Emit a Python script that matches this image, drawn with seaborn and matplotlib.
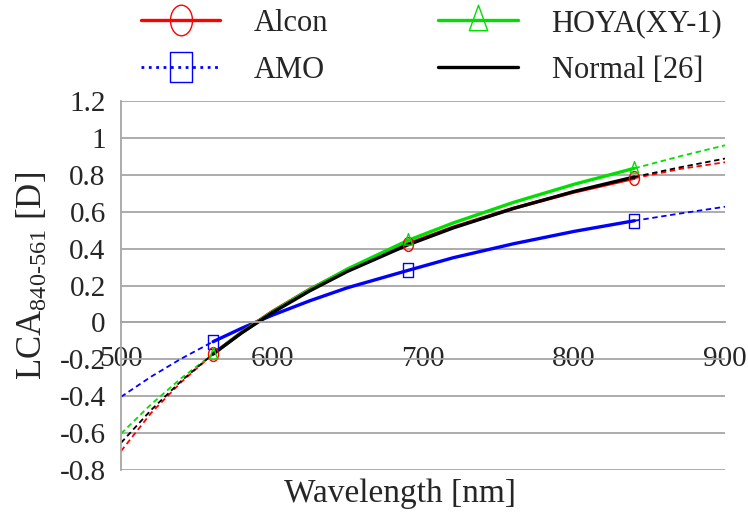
""" LCA of intraocular lenses vs wavelength """

import matplotlib
matplotlib.use("Agg")
import matplotlib.pyplot as plt
import seaborn as sns
from matplotlib.lines import Line2D
from matplotlib.path import Path
from matplotlib.transforms import Affine2D

# wavelength grid [nm] and LCA [D]
wl = [500, 520, 540, 561, 580, 600, 625, 650, 690, 720, 760, 800, 840, 870, 900]
alcon = [-0.700, -0.492, -0.324, -0.172, -0.053, 0.058, 0.180, 0.285, 0.427,
         0.517, 0.620, 0.708, 0.783, 0.833, 0.870]
hoya = [-0.605, -0.445, -0.303, -0.172, -0.055, 0.055, 0.178, 0.290, 0.445,
        0.540, 0.652, 0.750, 0.837, 0.902, 0.962]
amo = [-0.405, -0.295, -0.197, -0.105, -0.032, 0.038, 0.117, 0.188, 0.282,
       0.351, 0.427, 0.494, 0.552, 0.591, 0.628]
normal = [-0.655, -0.476, -0.318, -0.172, -0.057, 0.051, 0.171, 0.277, 0.421,
          0.513, 0.619, 0.711, 0.790, 0.842, 0.890]
measured_wl = [561, 690, 840]

y_ticks = [-0.8, -0.6, -0.4, -0.2, 0, 0.2, 0.4, 0.6, 0.8, 1, 1.2]
y_labels = ['-0.8', '-0.6', '-0.4', '-0.2', '0', '0.2', '0.4', '0.6', '0.8', '1', '1.2']
x_ticks = [500, 600, 700, 800, 900]

sns.set_style('white')
plt.rcParams['font.family'] = ['Liberation Serif', 'DejaVu Serif']
plt.rcParams['mathtext.fontset'] = 'custom'
plt.rcParams['mathtext.rm'] = 'Liberation Serif'
plt.rcParams['mathtext.it'] = 'Liberation Serif'

# tall markers like the spreadsheet legend
def stretched(path):
    return path.transformed(Affine2D().scale(0.72, 1.0))

ellipse = stretched(Path.unit_circle())
rect = stretched(Path.unit_rectangle().transformed(Affine2D().translate(-0.5, -0.5)))
tri = stretched(Path([(0, 0.6), (-0.5, -0.4), (0.5, -0.4), (0, 0.6)], closed=True))


def draw_curve(ax, y, color, marker=None):
    i0, i1 = wl.index(561), wl.index(840)
    sns.lineplot(x=wl[:i0 + 1], y=y[:i0 + 1], ax=ax, color=color, lw=1.3,
                 linestyle=(0, (3, 2)))
    sns.lineplot(x=wl[i1:], y=y[i1:], ax=ax, color=color, lw=1.3,
                 linestyle=(0, (3, 2)))
    sns.lineplot(x=wl[i0:i1 + 1], y=y[i0:i1 + 1], ax=ax, color=color, lw=2.4)
    if marker is not None:
        ys = [y[wl.index(w)] for w in measured_wl]
        ax.plot(measured_wl, ys, linestyle='none', marker=marker, markersize=10,
                mfc='none', mec=color, mew=1.0, zorder=5)


fig, ax = plt.subplots(figsize=(7.48, 5.16), dpi=100)
fig.subplots_adjust(left=0.1618, right=0.9693, bottom=0.0901, top=0.8033)

draw_curve(ax, amo, '#0000ff', rect)
draw_curve(ax, alcon, '#ff0000', ellipse)
draw_curve(ax, hoya, '#00e000', tri)
draw_curve(ax, normal, '#000000')

ax.set_xlim(500, 900)
ax.set_ylim(-0.8, 1.2)
ax.set_yticks(y_ticks)
ax.set_yticklabels(y_labels)
ax.set_xticks(x_ticks)

grid_c = '#a6a6a6'
ax.yaxis.grid(True, color=grid_c, lw=1.3)
ax.xaxis.grid(False)
for side in ['top', 'right']:
    ax.spines[side].set_visible(False)
ax.spines['bottom'].set_position(('data', 0))
ax.spines['bottom'].set_color(grid_c)
ax.spines['bottom'].set_linewidth(1.3)
ax.spines['left'].set_color(grid_c)
ax.spines['left'].set_linewidth(1.3)
ax.tick_params(axis='y', length=7, width=1.3, color=grid_c, labelsize=21, pad=4)
ax.tick_params(axis='x', length=5, width=1.3, color=grid_c, labelsize=21,
               direction='out', pad=12)

ax.set_xlabel('Wavelength [nm]', fontsize=24)
ax.xaxis.set_label_coords(0.462, -0.025)
ax.set_ylabel(r'LCA$_{840\text{-}561}$ [D]', fontsize=25)
ax.yaxis.set_label_coords(-0.118, 0.525)

handles = [
    Line2D([], [], color='#ff0000', lw=2.4, marker=ellipse, markersize=22,
           mfc='none', mec='#ff0000', mew=1.0),
    Line2D([], [], color='#0000ff', lw=2.0, linestyle=':', marker=rect,
           markersize=22, mfc='none', mec='#0000ff', mew=1.0),
    Line2D([], [], color='#00e000', lw=2.4, marker=tri, markersize=22,
           mfc='none', mec='#00e000', mew=1.0),
    Line2D([], [], color='#000000', lw=2.4),
]
labels = ['Alcon', 'AMO', 'HOYA(XY-1)', 'Normal [26]']
fig.legend(handles, labels, loc='center', bbox_to_anchor=(0.577, 0.909),
           ncol=2, frameon=False, fontsize=22, handlelength=2.6,
           handletextpad=1.1, columnspacing=3.6, labelspacing=0.6)

fig.savefig('out.png', dpi=100)
